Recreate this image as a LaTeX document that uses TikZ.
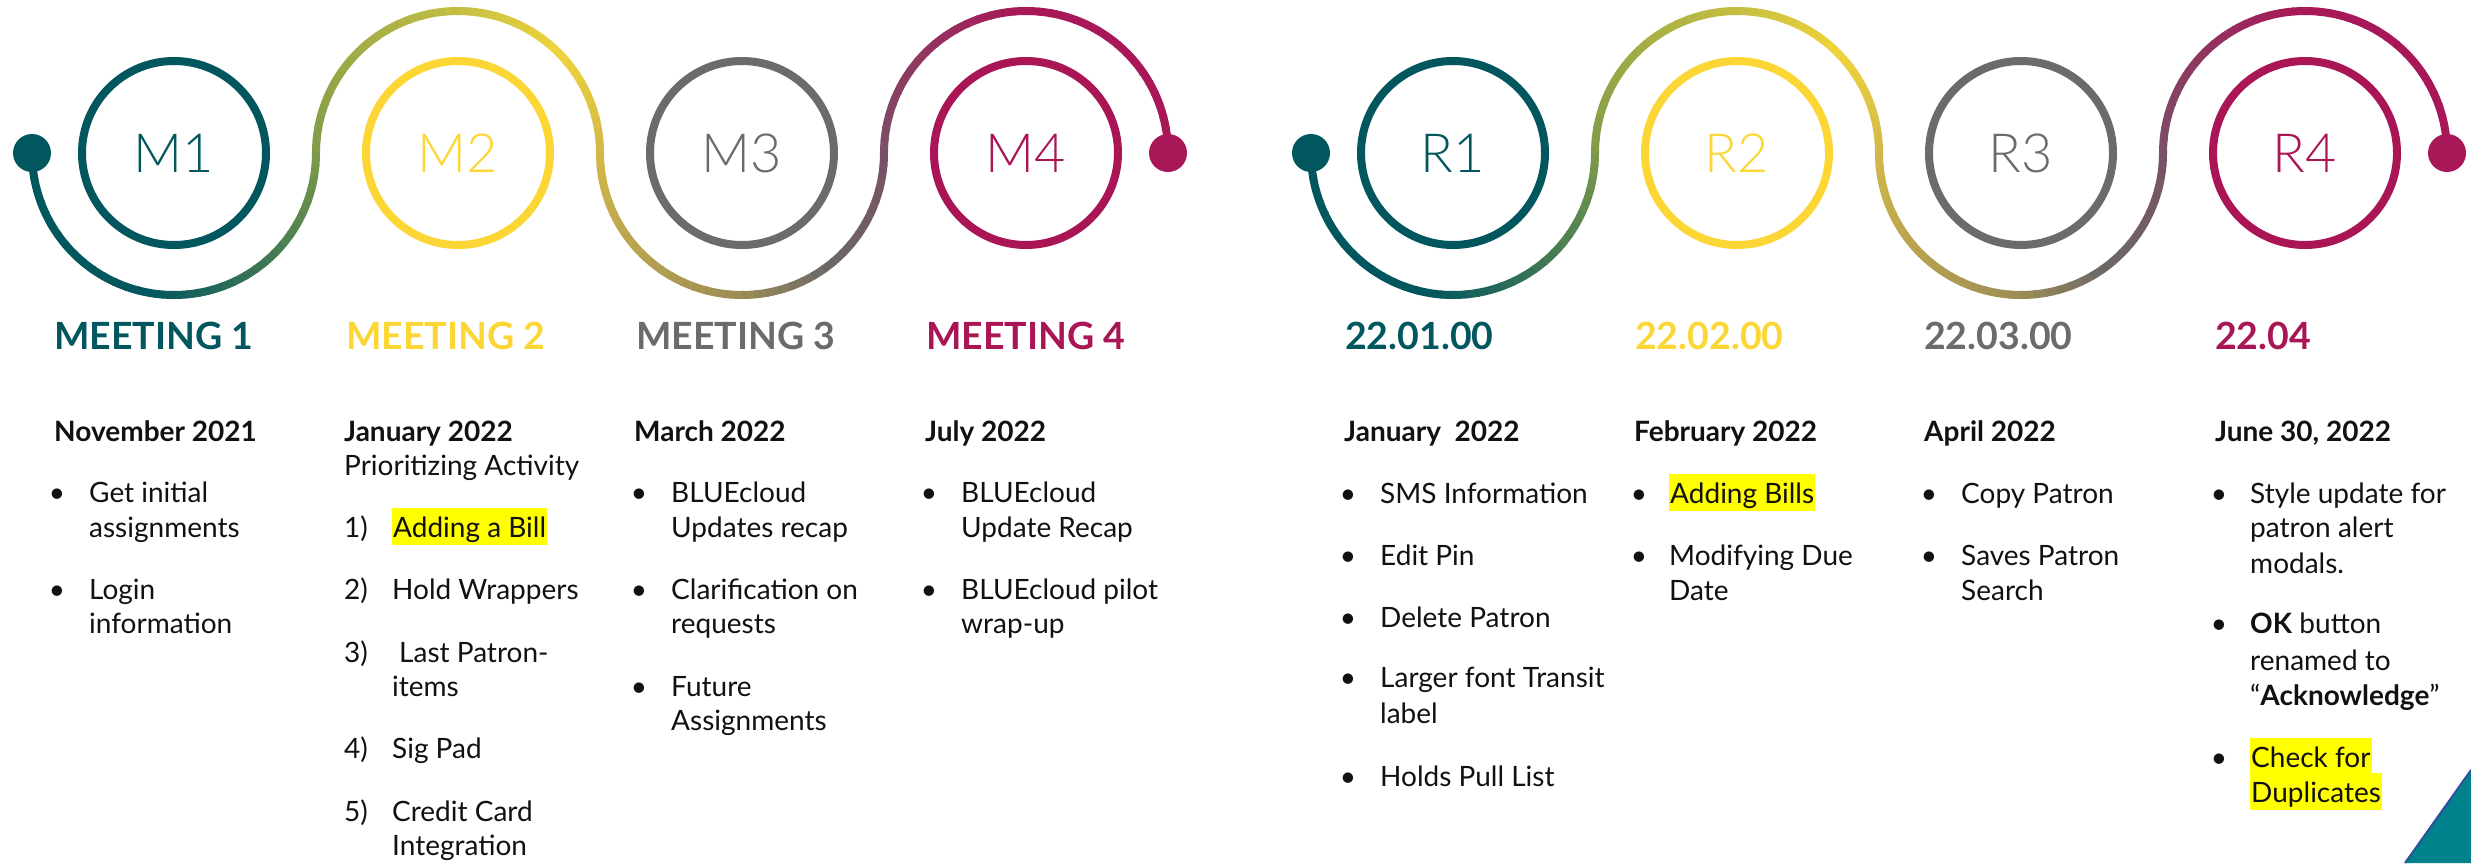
\documentclass[tikz,border=0pt]{standalone}
\usepackage{fontspec}
\setmainfont{Lato}
\IfFontExistsTF{Lato Light}{\newfontfamily\lblfont{Lato Light}}{%
  \IfFontExistsTF{Lato-Light}{\newfontfamily\lblfont{Lato-Light}}{\newfontfamily\lblfont{Lato}}}
\definecolor{cteal}{HTML}{02575F}
\definecolor{cyel}{HTML}{FBD634}
\definecolor{cgray}{HTML}{6B6B6B}
\definecolor{cmag}{HTML}{A91555}
\definecolor{gA}{HTML}{02575F}
\definecolor{gB}{HTML}{7E9A4A}
\definecolor{gC}{HTML}{C4BE42}
\definecolor{gD}{HTML}{F0D43A}
\definecolor{gE}{HTML}{D2B84A}
\definecolor{gF}{HTML}{9C8C55}
\definecolor{gG}{HTML}{6B6867}
\definecolor{gH}{HTML}{7A5066}
\definecolor{gI}{HTML}{A81858}
\definecolor{hl}{HTML}{FFFF00}
\definecolor{trifill}{HTML}{00828C}
\definecolor{triedge}{HTML}{2E4F9A}
\definecolor{ink}{HTML}{111111}
\newcommand\gradseg[4]{%
  \pgfmathsetmacro\gradP{100*(\gradT-#1)/(#2-#1)}%
  \colorlet{segc}{#4!\gradP!#3}}
\newcommand\setgradcolor[1]{%
  \pgfmathsetmacro\gradT{#1}%
  \ifdim\gradT pt<0.45pt \colorlet{segc}{gA}%
  \else\ifdim\gradT pt<1pt \gradseg{0.45}{1}{gA}{gB}%
  \else\ifdim\gradT pt<1.5pt \gradseg{1}{1.5}{gB}{gC}%
  \else\ifdim\gradT pt<1.75pt \gradseg{1.5}{1.75}{gC}{gD}%
  \else\ifdim\gradT pt<2pt \gradseg{1.75}{2}{gD}{gE}%
  \else\ifdim\gradT pt<2.5pt \gradseg{2}{2.5}{gE}{gF}%
  \else\ifdim\gradT pt<2.7pt \gradseg{2.5}{2.7}{gF}{gG}%
  \else\ifdim\gradT pt<3pt \gradseg{2.7}{3}{gG}{gH}%
  \else\ifdim\gradT pt<3.5pt \gradseg{3}{3.5}{gH}{gI}%
  \else \colorlet{segc}{gI}%
  \fi\fi\fi\fi\fi\fi\fi\fi\fi}
\newcommand\drawtrack[1]{%
  \foreach \k/\cx in {0/174,1/458,2/742,3/1026}{%
    \foreach \i in {0,...,35}{%
      \pgfmathsetmacro\sgn{ifthenelse(mod(\k,2)==0,1,-1)}%
      \pgfmathsetmacro\aA{180+\sgn*5*\i}%
      \pgfmathsetmacro\aB{180+\sgn*(5*\i+5.6)}%
      \pgfmathsetmacro\xA{#1+\cx+142*cos(\aA)}%
      \pgfmathsetmacro\yA{-153+142*sin(\aA)}%
      \setgradcolor{\k+(\i+0.5)/36}%
      \draw[trackline, segc] (\xA,\yA) arc[start angle=\aA, end angle=\aB, radius=142];
    }%
  }%
  \fill[gA] (#1+32,-153) circle (19);
  \fill[gI] (#1+1168,-153) circle (19);
}
\begin{document}
\begin{tikzpicture}[x=1pt,y=1pt,
  trackline/.style={line width=8pt},
  ring/.style={line width=8pt},
  body/.style={anchor=base west, inner sep=0pt, text=ink, font=\fontsize{28}{34}\selectfont},
  datel/.style={anchor=base west, inner sep=0pt, text=ink, font=\fontsize{28}{34}\selectfont\bfseries},
  head/.style={anchor=base west, inner sep=0pt, font=\fontsize{37.5}{45}\selectfont\bfseries},
  lbl/.style={anchor=base, inner sep=0pt, font=\lblfont\fontsize{54}{60}\selectfont},
  hlbox/.style={body, fill=hl, inner xsep=1pt, inner ysep=0pt, text height=29pt, text depth=8pt},
  bul/.style={anchor=base, inner sep=0pt, text=ink, font=\fontsize{28}{34}\selectfont}
]
\useasboundingbox (0,0) rectangle (2471,-863);
\fill[white] (0,0) rectangle (2471,-863);

% tracks
\drawtrack{0}
\drawtrack{1279}

% rings
\draw[ring, cteal] (174,-153) circle (92);
\draw[ring, cyel] (458,-153) circle (92);
\draw[ring, cgray] (742,-153) circle (92);
\draw[ring, cmag] (1026,-153) circle (92);
\draw[ring, cteal] (1453,-153) circle (92);
\draw[ring, cyel] (1737,-153) circle (92);
\draw[ring, cgray] (2021,-153) circle (92);
\draw[ring, cmag] (2305,-153) circle (92);

\node[lbl, text=cteal] (m1) at (174,-172) {M1};
\node[lbl, text=cyel] (m2) at (458,-172) {M2};
\node[lbl, text=cgray] (m3) at (742,-172) {M3};
\node[lbl, text=cmag] (m4) at (1026,-172) {M4};
\node[lbl, text=cteal] (r1) at (1453,-172) {R1};
\node[lbl, text=cyel] (r2) at (1737,-172) {R2};
\node[lbl, text=cgray] (r3) at (2021,-172) {R3};
\node[lbl, text=cmag] (r4) at (2305,-172) {R4};

% headings
\node[head, text=cteal] (h1) at (54,-349) {MEETING 1};
\node[head, text=cyel] (h2) at (346,-349) {MEETING 2};
\node[head, text=cgray] (h3) at (636,-349) {MEETING 3};
\node[head, text=cmag] (h4) at (926,-349) {MEETING 4};
\node[head, text=cteal] (h5) at (1345,-349) {22.01.00};
\node[head, text=cyel] (h6) at (1635,-349) {22.02.00};
\node[head, text=cgray] (h7) at (1924,-349) {22.03.00};
\node[head, text=cmag] (h8) at (2215,-349) {22.04};

% dates
\node[datel] (d1) at (54,-441) {November 2021};
\node[datel] (d2) at (344,-441) {January 2022};
\node[datel] (d3) at (634,-441) {March 2022};
\node[datel] (d4) at (925,-441) {July 2022};
\node[datel] (d5) at (1344,-441) {January\ \ 2022};
\node[datel] (d6) at (1634,-441) {February 2022};
\node[datel] (d7) at (1924,-441) {April 2022};
\node[datel] (d8) at (2215,-441) {June 30, 2022};

% column 1
\node[bul] (b11) at (57,-502) {•};
\node[body] (t11) at (89,-502) {Get initial};
\node[body] (t12) at (89,-537) {assignments};
\node[bul] (b12) at (57,-599) {•};
\node[body] (t13) at (89,-599) {Login};
\node[body] (t14) at (89,-633) {information};

% column 2
\node[body] (p21) at (344,-475) {Prioritizing Activity};
\node[body] (n21) at (344,-537) {1)};
\node[hlbox] (t21) at (392,-537) {Adding a Bill};
\node[body] (n22) at (344,-599) {2)};
\node[body] (t22) at (392,-599) {Hold Wrappers};
\node[body] (n23) at (344,-662) {3)};
\node[body] (t23) at (399,-662) {Last Patron-};
\node[body] (t24) at (392,-696) {items};
\node[body] (n24) at (344,-758) {4)};
\node[body] (t25) at (392,-758) {Sig Pad};
\node[body] (n25) at (344,-821) {5)};
\node[body] (t26) at (392,-821) {Credit Card};
\node[body] (t27) at (392,-855) {Integration};

% column 3
\node[bul] (b31) at (639,-502) {•};
\node[body] (t31) at (671,-502) {BLUEcloud};
\node[body] (t32) at (671,-537) {Updates recap};
\node[bul] (b32) at (639,-599) {•};
\node[body] (t33) at (671,-599) {Clarification on};
\node[body] (t34) at (671,-633) {requests};
\node[bul] (b33) at (639,-696) {•};
\node[body] (t35) at (671,-696) {Future};
\node[body] (t36) at (671,-730) {Assignments};

% column 4
\node[bul] (b41) at (929,-502) {•};
\node[body] (t41) at (961,-502) {BLUEcloud};
\node[body] (t42) at (961,-537) {Update Recap};
\node[bul] (b42) at (929,-599) {•};
\node[body] (t43) at (961,-599) {BLUEcloud pilot};
\node[body] (t44) at (961,-633) {wrap-up};

% column 5
\node[bul] (b51) at (1348,-503) {•};
\node[body] (t51) at (1380,-503) {SMS Information};
\node[bul] (b52) at (1348,-565) {•};
\node[body] (t52) at (1380,-565) {Edit Pin};
\node[bul] (b53) at (1348,-627) {•};
\node[body] (t53) at (1380,-627) {Delete Patron};
\node[bul] (b54) at (1348,-687) {•};
\node[body] (t54) at (1380,-687) {Larger font Transit};
\node[body] (t55) at (1380,-723) {label};
\node[bul] (b55) at (1348,-786) {•};
\node[body] (t56) at (1380,-786) {Holds Pull List};

% column 6
\node[bul] (b61) at (1639,-503) {•};
\node[hlbox] (t61) at (1669,-503) {Adding Bills};
\node[bul] (b62) at (1639,-565) {•};
\node[body] (t62) at (1669,-565) {Modifying Due};
\node[body] (t63) at (1669,-600) {Date};

% column 7
\node[bul] (b71) at (1929,-503) {•};
\node[body] (t71) at (1961,-503) {Copy Patron};
\node[bul] (b72) at (1929,-565) {•};
\node[body] (t72) at (1961,-565) {Saves Patron};
\node[body] (t73) at (1961,-600) {Search};

% column 8
\node[bul] (b81) at (2219,-503) {•};
\node[body] (t81) at (2250,-503) {Style update for};
\node[body] (t82) at (2250,-537) {patron alert};
\node[body] (t83) at (2250,-573) {modals.};
\node[bul] (b82) at (2219,-633) {•};
\node[body] (t84) at (2250,-633) {\textbf{OK} button};
\node[body] (t85) at (2250,-670) {renamed to};
\node[body] (t86) at (2250,-705) {“\textbf{Acknowledge}”};
\node[bul] (b83) at (2219,-767) {•};
\node[hlbox] (t87) at (2250,-767) {Check for};
\node[hlbox] (t88) at (2250,-802) {Duplicates};

% corner triangle
\fill[trifill] (2405,-863) -- (2471,-770) -- (2471,-863) -- cycle;
\draw[triedge, line width=2pt] (2405,-863) -- (2471,-770);
\end{tikzpicture}
\end{document}
